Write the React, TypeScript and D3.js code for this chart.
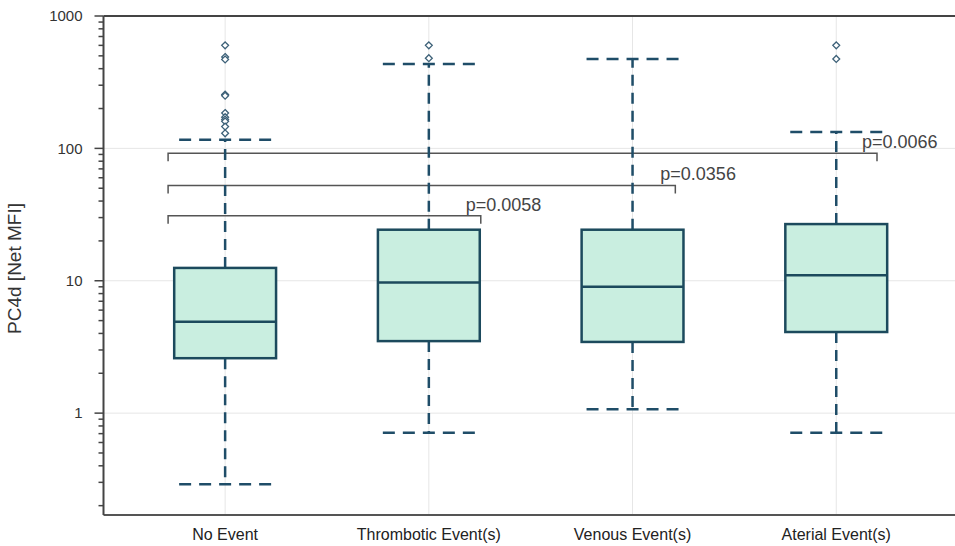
import React from 'react';
import * as d3 from 'd3';

// categories and box statistics (log scale, Net MFI)
const categories = ['No Event', 'Thrombotic Event(s)', 'Venous Event(s)', 'Aterial Event(s)'];
const lowerWhisker = [0.29, 0.71, 1.07, 0.71];
const q1 = [2.6, 3.5, 3.45, 4.1];
const medians = [4.9, 9.7, 9.0, 11.0];
const q3 = [12.5, 24.3, 24.3, 26.8];
const upperWhisker = [116, 434, 474, 133];
const outliers = [
  [600, 490, 470, 255, 250, 185, 172, 165, 160, 146, 130],
  [600, 480],
  [],
  [600, 474],
];

const yTicks = [1, 10, 100, 1000];

// pairwise comparisons against "No Event"
const compareTo = ['Thrombotic Event(s)', 'Venous Event(s)', 'Aterial Event(s)'];
const compareLevel = [31, 52.5, 92];
const pLabels = ['p=0.0058', 'p=0.0356', 'p=0.0066'];

const W = 955;
const H = 546;
const margin = { top: 16, right: 0, bottom: 31, left: 103.5 };

const App = () => {
  const x = d3.scalePoint<string>()
    .domain(categories)
    .range([margin.left, W - margin.right])
    .padding(0.59)
    .align(0.506);

  const y = d3.scaleLog()
    .domain([0.17, 1000])
    .range([H - margin.bottom, margin.top]);

  const step = x.step();
  const boxHalf = step * 0.25;
  const capHalf = 46;
  const bracketRight = [0.255, 0.21, 0.2]; // right end offset as share of step

  // minor ticks between decades
  const minorTicks: number[] = [];
  [0.1, 1, 10, 100].forEach(d => {
    for (let k = 2; k <= 9; k++) {
      const v = k * d;
      if (v >= 0.17 && v <= 1000) minorTicks.push(v);
    }
  });

  const diamond = d3.symbol().type((d3 as any).symbolDiamond2 ?? d3.symbolDiamond).size(30)();

  const boxStroke = '#1c4a5d';
  const whiskerStroke = '#1f4d68';
  const font = '"Liberation Sans", Arial, sans-serif';
  const x0 = x(categories[0])!;

  return (
    <div style={{ position: 'absolute', left: 0, top: 0 }}>
      <svg width={W} height={H} style={{ display: 'block', background: '#fff' }} fontFamily={font}>
        {/* grid */}
        {yTicks.slice(0, 3).map(t => (
          <line key={'gy' + t} x1={margin.left} x2={W} y1={y(t)} y2={y(t)} stroke="#e6e6e6" strokeWidth={1} />
        ))}
        {categories.map(c => (
          <line key={'gx' + c} x1={x(c)} x2={x(c)} y1={margin.top} y2={H - margin.bottom} stroke="#e6e6e6" strokeWidth={1} />
        ))}

        {/* significance brackets */}
        {compareTo.map((c, i) => {
          const yy = y(compareLevel[i]);
          const xl = x0 - step * 0.28;
          const xr = x(c)! + step * bracketRight[i];
          return (
            <g key={'br' + i}>
              <path d={`M${xl},${yy + 8}V${yy}H${xr}V${yy + 8}`} fill="none" stroke="#555" strokeWidth={1.5} />
              <text x={xr - 15} y={yy - 5} fontSize={18} fill="#444">{pLabels[i]}</text>
            </g>
          );
        })}

        {/* boxes */}
        {categories.map((c, i) => {
          const cx = x(c)!;
          return (
            <g key={'box' + c}>
              <line x1={cx} x2={cx} y1={y(q3[i])} y2={y(upperWhisker[i])} stroke={whiskerStroke} strokeWidth={2.5} strokeDasharray="11,7" />
              <line x1={cx} x2={cx} y1={y(q1[i])} y2={y(lowerWhisker[i])} stroke={whiskerStroke} strokeWidth={2.5} strokeDasharray="11,7" />
              <line x1={cx - capHalf} x2={cx + capHalf} y1={y(upperWhisker[i])} y2={y(upperWhisker[i])} stroke={whiskerStroke} strokeWidth={2.5} strokeDasharray="12,8" />
              <line x1={cx - capHalf} x2={cx + capHalf} y1={y(lowerWhisker[i])} y2={y(lowerWhisker[i])} stroke={whiskerStroke} strokeWidth={2.5} strokeDasharray="12,8" />
              <rect x={cx - boxHalf} y={y(q3[i])} width={boxHalf * 2} height={y(q1[i]) - y(q3[i])} fill="#c9eee0" stroke={boxStroke} strokeWidth={2.5} />
              <line x1={cx - boxHalf} x2={cx + boxHalf} y1={y(medians[i])} y2={y(medians[i])} stroke={boxStroke} strokeWidth={2.5} />
              {outliers[i].map((v, j) => (
                <path key={j} d={diamond!} transform={`translate(${cx},${y(v)})`} fill="#fff" stroke="#3d6178" strokeWidth={1.3} />
              ))}
            </g>
          );
        })}

        {/* frame */}
        <line x1={margin.left} x2={W} y1={margin.top} y2={margin.top} stroke="#444" strokeWidth={2} />
        <line x1={margin.left} x2={W} y1={H - margin.bottom} y2={H - margin.bottom} stroke="#555" strokeWidth={2} />
        <line x1={margin.left} x2={margin.left} y1={margin.top} y2={H - margin.bottom} stroke="#444" strokeWidth={2} />

        {/* y axis ticks */}
        {minorTicks.map(t => (
          <line key={'mt' + t} x1={margin.left - 5} x2={margin.left} y1={y(t)} y2={y(t)} stroke="#444" strokeWidth={1.5} />
        ))}
        {yTicks.map(t => (
          <g key={'yt' + t}>
            <line x1={margin.left - 9} x2={margin.left} y1={y(t)} y2={y(t)} stroke="#444" strokeWidth={1.5} />
            <text x={margin.left - 21} y={y(t)} dy="0.35em" textAnchor="end" fontSize={15} fill="#333">{t}</text>
          </g>
        ))}

        {/* x labels */}
        {categories.map(c => (
          <text key={'xl' + c} x={x(c)} y={H - 6} textAnchor="middle" fontSize={16} fill="#222">{c}</text>
        ))}

        <text transform={`translate(21,${(margin.top + H - margin.bottom) / 2 + 3}) rotate(-90)`} textAnchor="middle" fontSize={19} fill="#333">PC4d [Net MFI]</text>
      </svg>
    </div>
  );
};

export default App;
